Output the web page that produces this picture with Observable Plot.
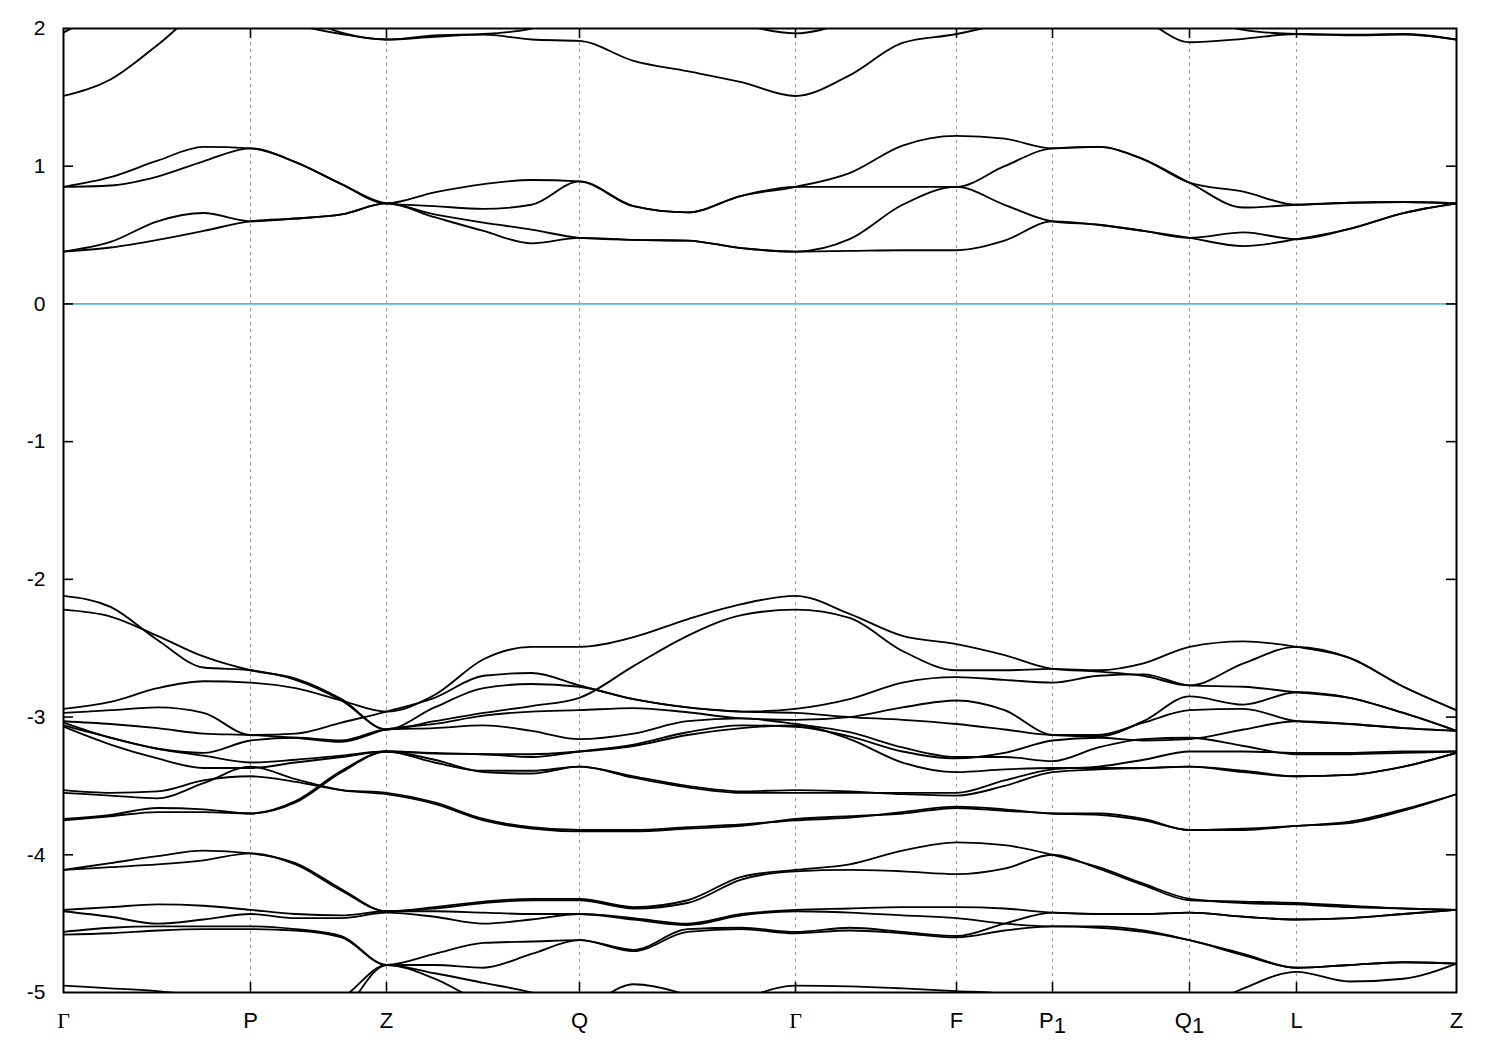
<!DOCTYPE html>
<html>
<head>
<meta charset="utf-8">
<script src="https://cdn.jsdelivr.net/npm/d3@7"></script>
<script src="https://cdn.jsdelivr.net/npm/@observablehq/plot@0.6"></script>
<style>
  body { margin: 0; background: #fff; }
  #chart svg { display: block; }
</style>
</head>
<body>
<div id="chart"></div>
<script>
// k-path sample positions (path length units) and high-symmetry points
const kSamples = [0, 47, 94, 140, 187, 232, 278, 323, 371, 420, 468, 516, 570, 624, 678, 732, 786, 839, 893, 941, 989, 1035, 1080, 1126, 1180, 1233, 1286, 1340, 1393];
const kTicks = [0, 187, 323, 516, 732, 893, 989, 1126, 1233, 1393];
const kLabels = ["Γ", "P", "Z", "Q", "Γ", "F", "P1", "Q1", "L", "Z"];
const yTicks = [2, 1, 0, -1, -2, -3, -4, -5];

// conduction bands (eV)
const cb1 = [0.38, 0.41, 0.465, 0.53, 0.60, 0.62, 0.65, 0.73, 0.63, 0.53, 0.44, 0.48, 0.465, 0.46, 0.405, 0.38, 0.385, 0.39, 0.39, 0.46, 0.60, 0.575, 0.53, 0.48, 0.42, 0.47, 0.545, 0.66, 0.73];
const cb2 = [0.38, 0.45, 0.60, 0.66, 0.60, 0.62, 0.65, 0.73, 0.65, 0.59, 0.54, 0.48, 0.465, 0.46, 0.405, 0.38, 0.47, 0.72, 0.85, 0.72, 0.60, 0.575, 0.53, 0.48, 0.52, 0.47, 0.545, 0.66, 0.73];
const cb3 = [0.85, 0.86, 0.925, 1.035, 1.13, 1.03, 0.87, 0.73, 0.81, 0.87, 0.90, 0.89, 0.71, 0.665, 0.785, 0.85, 0.95, 1.15, 1.22, 1.20, 1.13, 1.14, 1.05, 0.88, 0.815, 0.72, 0.735, 0.74, 0.73];
const cb4 = [0.85, 0.92, 1.04, 1.14, 1.13, 1.03, 0.87, 0.73, 0.71, 0.69, 0.72, 0.89, 0.71, 0.665, 0.785, 0.85, 0.85, 0.85, 0.85, 1.00, 1.13, 1.14, 1.05, 0.88, 0.70, 0.72, 0.735, 0.74, 0.73];
const cb5 = [1.51, 1.63, 1.88, 2.15, 2.25, 2.10, 1.97, 1.92, 1.95, 1.96, 2.00, 2.15, 2.20, 2.15, 2.03, 1.965, 2.05, 2.20, 2.30, 2.30, 2.30, 2.30, 2.20, 2.10, 1.99, 1.96, 1.955, 1.96, 1.92];
const cb6 = [1.97, 2.15, 2.30, 2.30, 2.15, 2.03, 1.96, 1.92, 1.94, 1.955, 1.92, 1.91, 1.765, 1.69, 1.61, 1.51, 1.66, 1.895, 1.96, 2.05, 2.25, 2.15, 2.06, 1.90, 1.925, 1.96, 1.95, 1.955, 1.92];

// valence bands (eV)
const vb1 = [-2.12, -2.20, -2.44, -2.64, -2.66, -2.73, -2.88, -3.09, -2.93, -2.79, -2.76, -2.78, -2.87, -2.93, -2.96, -2.94, -2.87, -2.75, -2.71, -2.73, -2.75, -2.70, -2.69, -2.77, -2.78, -2.82, -2.86, -2.97, -3.10];
const vb2 = [-2.22, -2.27, -2.41, -2.56, -2.66, -2.72, -2.87, -3.09, -3.03, -2.97, -2.92, -2.86, -2.63, -2.41, -2.26, -2.22, -2.28, -2.52, -2.66, -2.66, -2.65, -2.66, -2.61, -2.49, -2.45, -2.49, -2.57, -2.78, -2.95];
const vb3 = [-2.94, -2.89, -2.79, -2.74, -2.75, -2.79, -2.88, -2.96, -2.84, -2.58, -2.49, -2.49, -2.42, -2.29, -2.18, -2.12, -2.25, -2.41, -2.47, -2.55, -2.65, -2.67, -2.70, -2.77, -2.61, -2.49, -2.57, -2.78, -2.95];
const vb4 = [-2.97, -2.95, -2.93, -2.97, -3.13, -3.12, -3.04, -2.96, -2.86, -2.70, -2.68, -2.77, -2.87, -2.93, -2.96, -2.97, -3.00, -3.02, -3.05, -3.09, -3.13, -3.13, -3.04, -2.95, -2.94, -3.03, -3.05, -3.08, -3.10];
const vb5 = [-3.03, -3.05, -3.08, -3.12, -3.13, -3.15, -3.18, -3.09, -3.05, -2.99, -2.96, -2.95, -2.935, -2.965, -3.01, -3.02, -3.00, -2.93, -2.88, -2.95, -3.13, -3.14, -3.03, -2.85, -2.91, -2.82, -2.86, -2.97, -3.10];
const vb6 = [-3.04, -3.15, -3.23, -3.26, -3.17, -3.15, -3.17, -3.09, -3.08, -3.06, -3.10, -3.16, -3.12, -3.03, -3.01, -3.05, -3.11, -3.22, -3.29, -3.29, -3.32, -3.22, -3.16, -3.15, -3.21, -3.27, -3.27, -3.26, -3.25];
const vb7 = [-3.06, -3.15, -3.23, -3.28, -3.33, -3.31, -3.28, -3.25, -3.26, -3.27, -3.27, -3.25, -3.21, -3.13, -3.08, -3.06, -3.16, -3.33, -3.40, -3.38, -3.37, -3.37, -3.37, -3.36, -3.39, -3.43, -3.42, -3.36, -3.26];
const vb8 = [-3.07, -3.20, -3.30, -3.37, -3.37, -3.33, -3.29, -3.25, -3.265, -3.27, -3.29, -3.25, -3.20, -3.11, -3.06, -3.07, -3.14, -3.25, -3.30, -3.26, -3.17, -3.15, -3.17, -3.16, -3.09, -3.03, -3.05, -3.08, -3.10];
const vb9 = [-3.53, -3.55, -3.54, -3.46, -3.43, -3.47, -3.53, -3.55, -3.62, -3.74, -3.80, -3.82, -3.82, -3.80, -3.78, -3.75, -3.73, -3.69, -3.65, -3.67, -3.70, -3.70, -3.74, -3.82, -3.81, -3.79, -3.76, -3.67, -3.56];
const vb10 = [-3.55, -3.57, -3.59, -3.48, -3.36, -3.45, -3.53, -3.56, -3.63, -3.75, -3.81, -3.83, -3.83, -3.81, -3.79, -3.74, -3.72, -3.70, -3.66, -3.68, -3.70, -3.71, -3.75, -3.82, -3.82, -3.79, -3.77, -3.68, -3.56];
const vb11 = [-3.74, -3.71, -3.66, -3.67, -3.70, -3.61, -3.39, -3.25, -3.33, -3.39, -3.39, -3.36, -3.43, -3.50, -3.54, -3.53, -3.54, -3.56, -3.57, -3.50, -3.40, -3.38, -3.37, -3.36, -3.40, -3.43, -3.42, -3.36, -3.26];
const vb12 = [-3.75, -3.72, -3.69, -3.69, -3.70, -3.62, -3.40, -3.25, -3.31, -3.40, -3.41, -3.36, -3.44, -3.51, -3.55, -3.55, -3.55, -3.55, -3.55, -3.46, -3.38, -3.36, -3.31, -3.25, -3.25, -3.26, -3.26, -3.25, -3.25];
const vb13 = [-4.11, -4.06, -4.01, -3.97, -3.99, -4.06, -4.25, -4.41, -4.38, -4.34, -4.32, -4.32, -4.38, -4.33, -4.16, -4.11, -4.07, -3.97, -3.91, -3.93, -4.00, -4.09, -4.21, -4.32, -4.35, -4.36, -4.38, -4.39, -4.40];
const vb14 = [-4.11, -4.09, -4.07, -4.04, -3.99, -4.07, -4.26, -4.41, -4.39, -4.35, -4.33, -4.33, -4.39, -4.35, -4.18, -4.12, -4.11, -4.12, -4.14, -4.10, -4.00, -4.10, -4.22, -4.33, -4.34, -4.35, -4.37, -4.39, -4.40];
const vb15 = [-4.40, -4.38, -4.36, -4.37, -4.40, -4.43, -4.44, -4.41, -4.41, -4.42, -4.43, -4.43, -4.46, -4.50, -4.43, -4.40, -4.39, -4.38, -4.38, -4.39, -4.42, -4.43, -4.43, -4.42, -4.45, -4.47, -4.46, -4.43, -4.40];
const vb16 = [-4.41, -4.45, -4.50, -4.47, -4.43, -4.46, -4.46, -4.42, -4.45, -4.50, -4.47, -4.43, -4.47, -4.51, -4.44, -4.41, -4.42, -4.44, -4.46, -4.50, -4.52, -4.52, -4.55, -4.62, -4.72, -4.82, -4.80, -4.78, -4.79];
const vb17 = [-4.56, -4.53, -4.52, -4.52, -4.52, -4.54, -4.59, -4.80, -4.72, -4.64, -4.63, -4.62, -4.69, -4.54, -4.53, -4.56, -4.53, -4.56, -4.59, -4.50, -4.42, -4.43, -4.43, -4.42, -4.45, -4.47, -4.46, -4.43, -4.40];
const vb18 = [-4.58, -4.57, -4.55, -4.54, -4.54, -4.55, -4.60, -4.80, -4.80, -4.82, -4.72, -4.62, -4.70, -4.56, -4.54, -4.57, -4.55, -4.57, -4.60, -4.55, -4.52, -4.53, -4.56, -4.62, -4.73, -4.82, -4.80, -4.78, -4.79];
const vb19 = [-4.95, -4.97, -4.99, -5.03, -5.10, -5.12, -5.04, -4.80, -4.90, -5.08, -5.20, -5.25, -5.30, -5.20, -5.05, -4.95, -4.955, -4.97, -4.99, -5.01, -5.10, -5.20, -5.25, -5.30, -5.30, -5.30, -5.30, -5.30, -5.30];
const vb20 = [-5.30, -5.30, -5.30, -5.30, -5.30, -5.28, -5.15, -4.80, -4.86, -4.93, -5.00, -5.10, -4.94, -5.02, -5.20, -5.30, -5.30, -5.30, -5.30, -5.30, -5.30, -5.25, -5.20, -5.15, -4.97, -4.85, -4.92, -4.90, -4.79];

const bandList = [cb1, cb2, cb3, cb4, cb5, cb6, vb1, vb2, vb3, vb4, vb5, vb6, vb7, vb8, vb9, vb10,
                  vb11, vb12, vb13, vb14, vb15, vb16, vb17, vb18, vb19, vb20];

const rows = [];
bandList.forEach((vals, b) => vals.forEach((e, i) => rows.push({band: b, k: kSamples[i], e})));

const labelOf = new Map(kTicks.map((k, i) => [k, kLabels[i]]));
const innerK = kTicks.slice(1, -1);
const innerY = yTicks.slice(1, -1);
const tickPx = 10;
const tickLenE = tickPx * 7 / 964;   // 10 px expressed in energy units
const tickLenK = tickPx * 1393 / 1393;

const plot = Plot.plot({
  width: 1500,
  height: 1050,
  marginLeft: 63,
  marginRight: 44,
  marginTop: 28,
  marginBottom: 58,
  style: {fontFamily: "'Liberation Sans', Arial, Helvetica, sans-serif", background: "#fff", color: "#000"},
  x: {domain: [0, 1393], axis: null},
  y: {domain: [-5, 2], axis: null},
  marks: [
    Plot.ruleX(innerK, {stroke: "#9a9a9a", strokeWidth: 1, strokeDasharray: "3,4"}),
    Plot.ruleY([0], {stroke: "#56b4e9", strokeWidth: 1.8}),
    Plot.line(rows, {x: "k", y: "e", z: "band", curve: "monotone-x", stroke: "#000", strokeWidth: 1.85, clip: true}),
    Plot.ruleX(innerK, {y1: -5, y2: -5 + tickLenE, stroke: "#000", strokeWidth: 1.6}),
    Plot.ruleX(innerK, {y1: 2 - tickLenE, y2: 2, stroke: "#000", strokeWidth: 1.6}),
    Plot.ruleY(innerY, {x1: 0, x2: tickLenK, stroke: "#000", strokeWidth: 1.6}),
    Plot.ruleY(innerY, {x1: 1393 - tickLenK, x2: 1393, stroke: "#000", strokeWidth: 1.6}),
    Plot.axisX(kTicks, {anchor: "bottom", tickSize: 0, tickPadding: 20, fontSize: 22, tickFormat: k => labelOf.get(k), label: null}),
    Plot.axisY(yTicks, {anchor: "left", tickSize: 0, tickPadding: 18, fontSize: 21, tickFormat: d => String(d), label: null}),
    Plot.frame({stroke: "#000", strokeWidth: 2})
  ]
});

// Greek Gamma in a serif face, numeric subscripts for P1 / Q1
d3.select(plot).selectAll('g[aria-label="x-axis tick label"] text').each(function () {
  const t = this.textContent;
  const sel = d3.select(this);
  if (t === "Γ") sel.style("font-family", "'Liberation Serif', 'DejaVu Serif', serif");
  const m = t.match(/^([A-Z])(\d)$/);
  if (m) {
    sel.text(m[1]);
    sel.append("tspan").attr("dy", "5").text(m[2]);
  }
});

document.getElementById("chart").appendChild(plot);
</script>
</body>
</html>
